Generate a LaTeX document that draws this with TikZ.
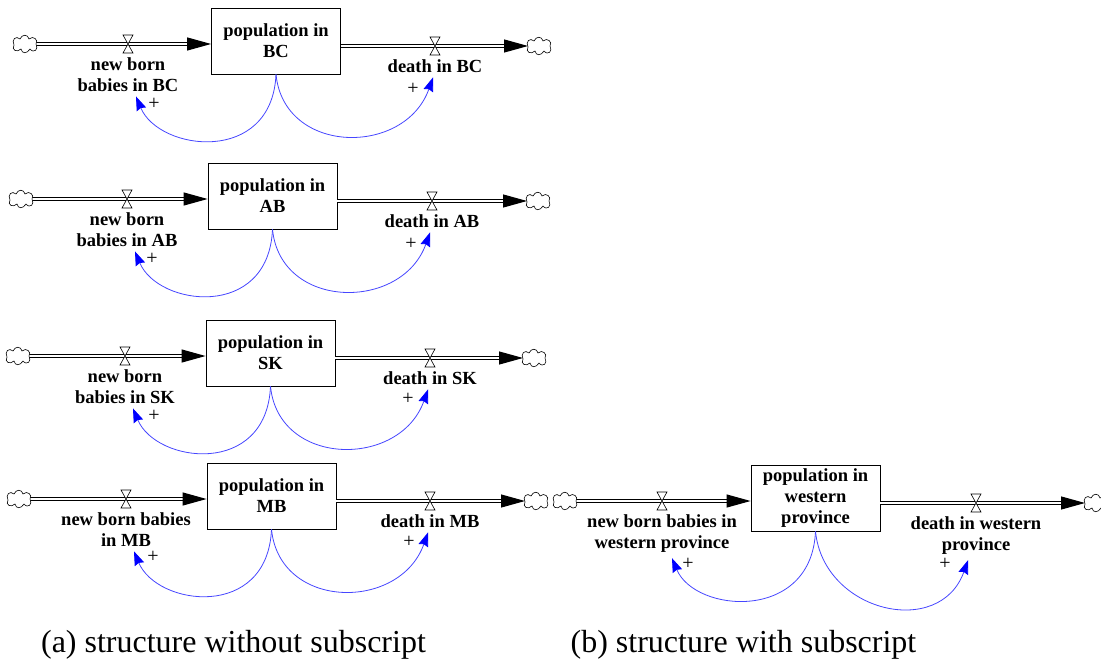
\documentclass[tikz,border=0pt]{standalone}
\usepackage{fontspec}
\setmainfont{Liberation Serif}
\usetikzlibrary{arrows.meta,positioning}
\definecolor{linkblue}{RGB}{70,70,255}

\begin{document}
\begin{tikzpicture}[x=1pt,y=-1pt,%
    stock/.style={draw,line width=0.8pt,minimum width=129pt,minimum height=66pt,%
      inner sep=0pt,align=center,font=\bfseries\fontsize{18.5}{21}\selectfont},%
    lbl/.style={align=center,inner sep=1pt,font=\bfseries\fontsize{18.5}{21}\selectfont},%
    sign/.style={inner sep=0pt,font=\fontsize{20}{20}\selectfont},%
    caption/.style={inner sep=0pt,font=\fontsize{32}{36}\selectfont},%
    pipe/.style={double=white,double distance=1.8pt,line width=1.1pt,%
      -{Triangle[length=24pt,width=13pt]}},%
    link/.style={draw=linkblue,line width=0.8pt,%
      -{Stealth[length=14pt,width=10pt,inset=1.5pt,color=blue]}},%
  ]
  % Stock and flow diagrams

  %
  % Definitions
  %
  \tikzset{
    cloud/.pic={
      \draw[fill=white,line width=0.6pt] (-11,1) .. controls (-14,-4) and (-9,-9) .. (-5,-5)
      .. controls (-3,-10) and (3,-10) .. (4,-5) .. controls (8,-9) and (14,-4) .. (11,0)
      .. controls (14,5) and (9,10) .. (5,5) .. controls (2,10) and (-3,10) .. (-4,5)
      .. controls (-8,9) and (-14,6) .. (-11,1) -- cycle;
    },
    valve/.pic={
      \draw[fill=white,line width=0.6pt] (-5,-9) -- (5,-9) -- (-5,9) -- (5,9) -- cycle;
    },
  }
  \useasboundingbox (0,0) rectangle (1101,666);
  \pgfmathsetmacro{\yBC}{44};%
  \pgfmathsetmacro{\yAB}{199};%
  \pgfmathsetmacro{\ySK}{356};%
  \pgfmathsetmacro{\yMB}{499};%
  \pgfmathsetmacro{\yWP}{501};%

  %
  % Drawing
  %
  % BC
  \node[stock] (popBC) at (276,\yBC-3) {population in\\BC};
  \coordinate (srcBC) at (25,\yBC);
  \coordinate (vinBC) at (128,\yBC);
  \coordinate (voutBC) at (435,\yBC+2);
  \coordinate (snkBC) at (539,\yBC+2);
  \draw[pipe] ([xshift=11pt]srcBC) -- (popBC.west |- srcBC);
  \draw[pipe] (popBC.east |- snkBC) -- ([xshift=-11pt]snkBC);
  \pic at (srcBC) {cloud};
  \pic at (snkBC) {cloud};
  \pic at (vinBC) {valve};
  \pic at (voutBC) {valve};
  \node[lbl, below=12pt of vinBC] (nbBC) {new born\\babies in BC};
  \node[lbl, below=12pt of voutBC] (dBC) {death in BC};
  \draw[link] (popBC.south) .. controls +(-4,91) and +(23,55) .. ([xshift=8pt,yshift=-4pt]nbBC.south);
  \draw[link] (popBC.south) .. controls +(8,81) and +(-28,79) .. ([xshift=-2pt,yshift=-4pt]dBC.south);
  \node[sign] at (154,\yBC+60) {+};
  \node[sign] at (413,\yBC+45) {+};

  % AB
  \node[stock] (popAB) at (272.5,\yAB-3) {population in\\AB};
  \coordinate (srcAB) at (21,\yAB);
  \coordinate (vinAB) at (127,\yAB);
  \coordinate (voutAB) at (432,\yAB+2);
  \coordinate (snkAB) at (538,\yAB+2);
  \draw[pipe] ([xshift=11pt]srcAB) -- (popAB.west |- srcAB);
  \draw[pipe] (popAB.east |- snkAB) -- ([xshift=-11pt]snkAB);
  \pic at (srcAB) {cloud};
  \pic at (snkAB) {cloud};
  \pic at (vinAB) {valve};
  \pic at (voutAB) {valve};
  \node[lbl, below=12pt of vinAB] (nbAB) {new born\\babies in AB};
  \node[lbl, below=12pt of voutAB] (dAB) {death in AB};
  \draw[link] (popAB.south) .. controls +(-4,91) and +(23,55) .. ([xshift=8pt,yshift=-4pt]nbAB.south);
  \draw[link] (popAB.south) .. controls +(8,81) and +(-28,79) .. ([xshift=-2pt,yshift=-4pt]dAB.south);
  \node[sign] at (152,\yAB+60) {+};
  \node[sign] at (411,\yAB+45) {+};

  % SK
  \node[stock] (popSK) at (270.5,\ySK-3) {population in\\SK};
  \coordinate (srcSK) at (18,\ySK);
  \coordinate (vinSK) at (125,\ySK);
  \coordinate (voutSK) at (430,\ySK+2);
  \coordinate (snkSK) at (534,\ySK+2);
  \draw[pipe] ([xshift=11pt]srcSK) -- (popSK.west |- srcSK);
  \draw[pipe] (popSK.east |- snkSK) -- ([xshift=-11pt]snkSK);
  \pic at (srcSK) {cloud};
  \pic at (snkSK) {cloud};
  \pic at (vinSK) {valve};
  \pic at (voutSK) {valve};
  \node[lbl, below=12pt of vinSK] (nbSK) {new born\\babies in SK};
  \node[lbl, below=12pt of voutSK] (dSK) {death in SK};
  \draw[link] (popSK.south) .. controls +(-4,91) and +(23,55) .. ([xshift=8pt,yshift=-4pt]nbSK.south);
  \draw[link] (popSK.south) .. controls +(8,81) and +(-28,79) .. ([xshift=-2pt,yshift=-4pt]dSK.south);
  \node[sign] at (154,\ySK+60) {+};
  \node[sign] at (408,\ySK+43) {+};

  % MB
  \node[stock] (popMB) at (271.5,\yMB-3) {population in\\MB};
  \coordinate (srcMB) at (19,\yMB);
  \coordinate (vinMB) at (126,\yMB);
  \coordinate (voutMB) at (430,\yMB+2);
  \coordinate (snkMB) at (536,\yMB+2);
  \draw[pipe] ([xshift=11pt]srcMB) -- (popMB.west |- srcMB);
  \draw[pipe] (popMB.east |- snkMB) -- ([xshift=-11pt]snkMB);
  \pic at (srcMB) {cloud};
  \pic at (snkMB) {cloud};
  \pic at (vinMB) {valve};
  \pic at (voutMB) {valve};
  \node[lbl, below=12pt of vinMB] (nbMB) {new born babies\\in MB};
  \node[lbl, below=12pt of voutMB] (dMB) {death in MB};
  \draw[link] (popMB.south) .. controls +(-4,91) and +(23,55) .. ([xshift=8pt,yshift=-4pt]nbMB.south);
  \draw[link] (popMB.south) .. controls +(8,81) and +(-28,79) .. ([xshift=-2pt,yshift=-4pt]dMB.south);
  \node[sign] at (153,\yMB+58) {+};
  \node[sign] at (409,\yMB+43) {+};

  % Western province
  \node[stock] (popWP) at (815.5,\yWP-3) {population in\\western\\province};
  \coordinate (srcWP) at (565,\yWP);
  \coordinate (vinWP) at (662,\yWP);
  \coordinate (voutWP) at (976,\yWP+2);
  \coordinate (snkWP) at (1096,\yWP+2);
  \draw[pipe] ([xshift=11pt]srcWP) -- (popWP.west |- srcWP);
  \draw[pipe] (popWP.east |- snkWP) -- ([xshift=-11pt]snkWP);
  \pic at (srcWP) {cloud};
  \pic at (snkWP) {cloud};
  \pic at (vinWP) {valve};
  \pic at (voutWP) {valve};
  \node[lbl, below=12pt of vinWP] (nbWP) {new born babies in\\western province};
  \node[lbl, below=12pt of voutWP] (dWP) {death in western\\province};
  \draw[link] (popWP.south) .. controls +(-4,91) and +(23,55) .. ([xshift=10pt,yshift=-5pt]nbWP.south);
  \draw[link] (popWP.south) .. controls +(8,81) and +(-28,79) .. ([xshift=-8pt,yshift=-5pt]dWP.south);
  \node[sign] at (688,\yWP+63) {+};
  \node[sign] at (945,\yWP+63) {+};

  % Captions
  \node[caption] (capA) at (233.5,645) {(a) structure without subscript};
  \node[caption] (capB) at (743.5,645) {(b) structure with subscript};

\end{tikzpicture}
\end{document}
